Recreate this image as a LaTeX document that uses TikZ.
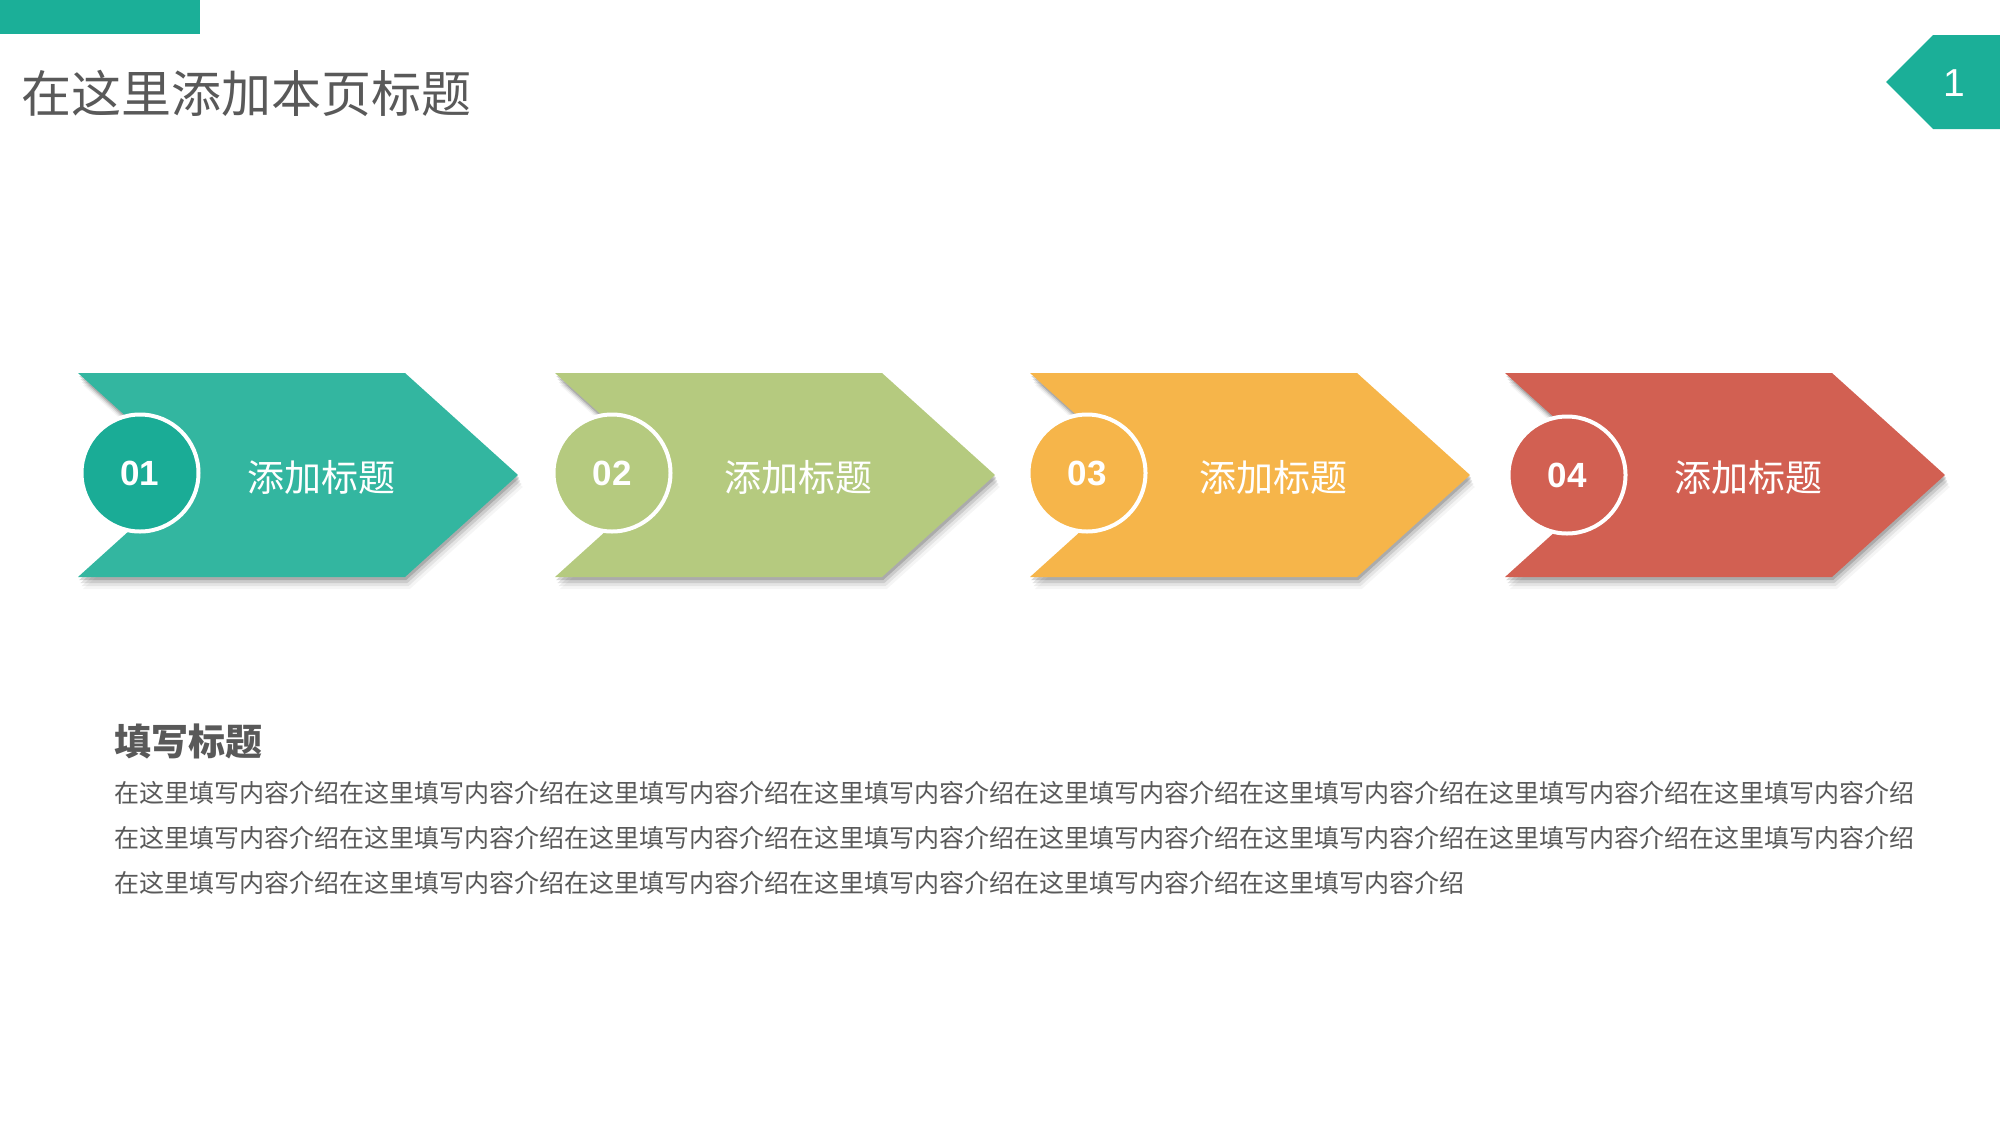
\documentclass[tikz,border=0pt]{standalone}
\usepackage{fontspec}
\setmainfont{Liberation Sans}
\newfontfamily\cjk{Noto Sans CJK SC}
\usepackage{tikz}
\usetikzlibrary{shadows}

\definecolor{tealbar}{HTML}{1BAF98}
\definecolor{inkgray}{HTML}{595959}
\definecolor{stepA}{HTML}{33B6A0}
\definecolor{stepAdark}{HTML}{1AAC96}
\definecolor{stepB}{HTML}{B5CA7F}
\definecolor{stepC}{HTML}{F6B54A}
\definecolor{stepD}{HTML}{D26052}

\begin{document}
\begin{tikzpicture}[x=0.5pt, y=-0.5pt,
    chevron/.style={draw=none,
        drop shadow={shadow xshift=0.6pt, shadow yshift=-1.5pt, opacity=0.16, fill=black},
        drop shadow={shadow xshift=1.2pt, shadow yshift=-3pt, opacity=0.11, fill=black},
        drop shadow={shadow xshift=1.8pt, shadow yshift=-4.5pt, opacity=0.07, fill=black},
        drop shadow={shadow xshift=2.4pt, shadow yshift=-6pt, opacity=0.04, fill=black}},
    numdisc/.style={circle, draw=white, line width=2pt, minimum size=58.5pt, inner sep=0pt,
        text=white, font=\fontsize{17.5pt}{20pt}\selectfont\bfseries},
    steptext/.style={inner sep=0pt, text=white, font=\cjk\fontsize{18.5pt}{22pt}\selectfont}]
    \useasboundingbox (0,0) rectangle (2000,1125);

    % Page header
    \fill[tealbar] (0,0) rectangle (200,34);
    \node (title) at (21,93) [anchor=west, inner sep=0pt, text=inkgray,
        font=\cjk\fontsize{25pt}{30pt}\selectfont] {在这里添加本页标题};
    \fill[tealbar] (1886,82) -- (1933,35) -- (2000,35) -- (2000,129) -- (1933,129) -- cycle;
    \node (pageno) at (1954,83) [inner sep=0pt, text=white,
        font=\fontsize{19.5pt}{22pt}\selectfont] {1};

    % Step 1
    \fill[stepA, chevron] (78,373) -- (405,373) -- (518,475) -- (405,577) -- (78,577) -- (191,475) -- cycle;
    \node (disc1) at (140,473) [numdisc, fill=stepAdark] {01};
    \node (label1) at (321,477) [steptext] {添加标题};

    % Step 2
    \fill[stepB, chevron] (555,373) -- (882,373) -- (995,475) -- (882,577) -- (555,577) -- (668,475) -- cycle;
    \node (disc2) at (612,473) [numdisc, fill=stepB] {02};
    \node (label2) at (798,477) [steptext] {添加标题};

    % Step 3
    \fill[stepC, chevron] (1030,373) -- (1357,373) -- (1470,475) -- (1357,577) -- (1030,577) -- (1143,475) -- cycle;
    \node (disc3) at (1087,473) [numdisc, fill=stepC] {03};
    \node (label3) at (1273,477) [steptext] {添加标题};

    % Step 4
    \fill[stepD, chevron] (1505,373) -- (1832,373) -- (1945,475) -- (1832,577) -- (1505,577) -- (1618,475) -- cycle;
    \node (disc4) at (1567,475) [numdisc, fill=stepD] {04};
    \node (label4) at (1748,477) [steptext] {添加标题};

    % Description
    \node (heading) at (114,741) [anchor=west, inner sep=0pt, text=inkgray,
        font=\cjk\fontsize{18.5pt}{22pt}\selectfont\bfseries] {填写标题};
    \node (body) at (114,838) [anchor=west, inner sep=0pt, text=inkgray, align=left,
        font=\cjk\fontsize{12.5pt}{22.5pt}\selectfont] {%
        在这里填写内容介绍在这里填写内容介绍在这里填写内容介绍在这里填写内容介绍在这里填写内容介绍在这里填写内容介绍在这里填写内容介绍在这里填写内容介绍\\
        在这里填写内容介绍在这里填写内容介绍在这里填写内容介绍在这里填写内容介绍在这里填写内容介绍在这里填写内容介绍在这里填写内容介绍在这里填写内容介绍\\
        在这里填写内容介绍在这里填写内容介绍在这里填写内容介绍在这里填写内容介绍在这里填写内容介绍在这里填写内容介绍};
\end{tikzpicture}
\end{document}
